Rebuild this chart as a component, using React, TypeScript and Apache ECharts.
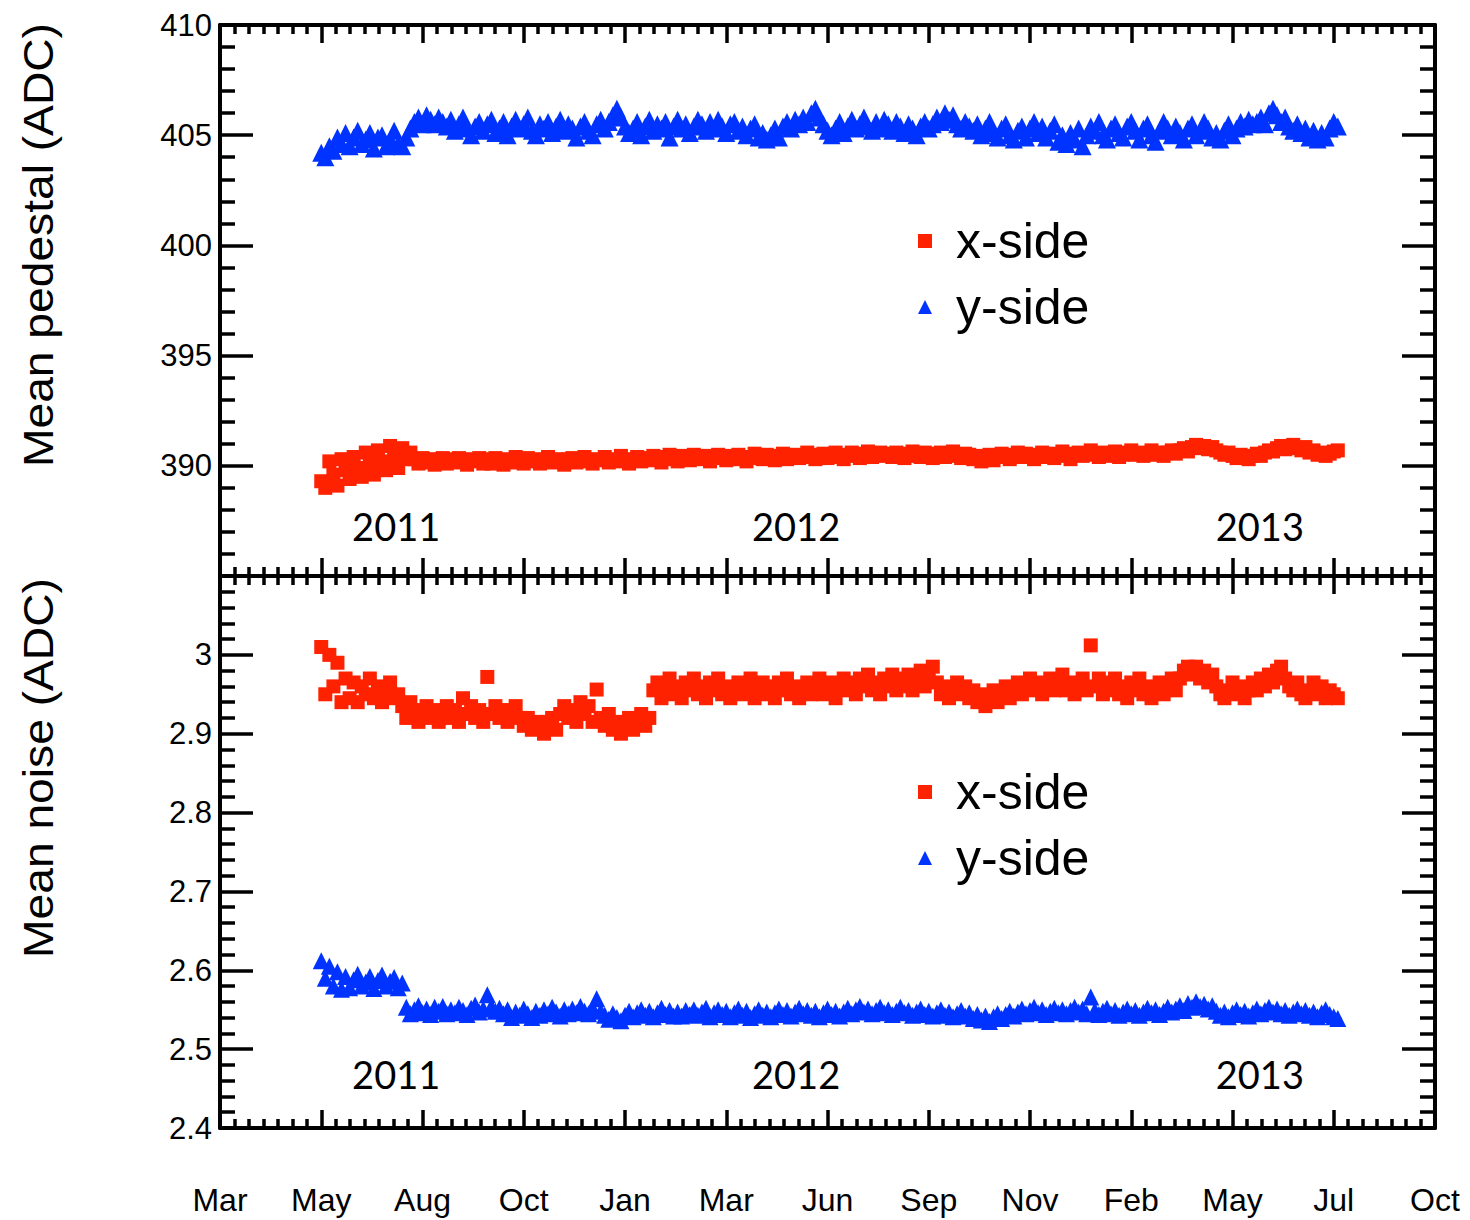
import React, { useEffect, useRef } from "react";
import * as echarts from "echarts";

// Tick labels along the shared time axis (one label per major tick)
const monthLabels = ["Mar", "May", "Aug", "Oct", "Jan", "Mar", "Jun", "Sep", "Nov", "Feb", "May", "Jul", "Oct"];
const yearLabels = ["2011", "2012", "2013"];
// Year label positions in major-tick units
const yearPositions = [1.74, 5.69, 10.27];

// Time of the first sample and spacing between samples, in major-tick units
const sampleStart = 1.0;
const sampleStep = 0.04;

// Mean pedestal (ADC), x-side
const pedestalX = [
  389.3, 389.0, 390.2, 389.6, 389.1, 390.3, 389.8, 389.4, 390.4, 389.9,
  389.5, 390.6, 390.1, 389.6, 390.7, 390.2, 389.8, 390.9, 390.4, 389.9,
  390.8, 390.3, 390.6,
  390.3, 390.1, 390.35, 390.15, 390.3, 390.05, 390.25, 390.35, 390.1, 390.3,
  390.15, 390.35, 390.2, 390.05, 390.3, 390.2, 390.35, 390.1,
  390.3, 390.1, 390.35, 390.2, 390.05, 390.3, 390.15, 390.4, 390.2, 390.1,
  390.35, 390.2, 390.3, 390.1, 390.25, 390.4, 390.15, 390.3, 390.2, 390.05,
  390.3, 390.35, 390.15, 390.25, 390.4, 390.2, 390.1, 390.3, 390.25, 390.4,
  390.15, 390.3, 390.2, 390.45, 390.25, 390.1, 390.3, 390.4, 390.2, 390.35,
  390.25, 390.45, 390.3, 390.15, 390.4, 390.5, 390.3, 390.2, 390.45, 390.35,
  390.25, 390.5, 390.4, 390.3, 390.45, 390.2, 390.35, 390.5, 390.4, 390.25,
  390.45, 390.3, 390.5, 390.35, 390.2, 390.4, 390.55, 390.35, 390.3, 390.5,
  390.4, 390.25, 390.45, 390.55, 390.3, 390.4, 390.5, 390.35, 390.45, 390.6,
  390.4, 390.3, 390.5, 390.55, 390.35, 390.45, 390.6, 390.4, 390.3, 390.5,
  390.6, 390.45, 390.35, 390.55, 390.65, 390.4, 390.5, 390.6, 390.45, 390.55,
  390.4, 390.6, 390.5, 390.35, 390.55, 390.65, 390.45, 390.4, 390.6, 390.5,
  390.35, 390.55, 390.6, 390.4, 390.5, 390.65, 390.45, 390.35, 390.55, 390.5,
  390.3, 390.45, 390.2, 390.35, 390.5, 390.25, 390.4, 390.55, 390.45, 390.3,
  390.5, 390.6, 390.4, 390.55, 390.45, 390.3, 390.5, 390.6, 390.4, 390.55,
  390.35, 390.5, 390.65, 390.45, 390.3, 390.55, 390.6, 390.45, 390.55, 390.7,
  390.5, 390.4, 390.6, 390.45, 390.55, 390.65, 390.4, 390.5, 390.6, 390.7,
  390.5, 390.6, 390.45, 390.55, 390.7, 390.5, 390.6, 390.45, 390.6, 390.7,
  390.55, 390.7, 390.8, 390.65, 390.85, 390.95, 390.8, 390.9, 390.75, 390.85,
  390.7, 390.6, 390.5, 390.6, 390.45, 390.35, 390.5, 390.4, 390.3, 390.45,
  390.55, 390.45, 390.6, 390.7, 390.65, 390.8, 390.9, 390.75, 390.85, 390.95,
  390.8, 390.7, 390.85, 390.6, 390.7, 390.5, 390.6, 390.45, 390.55, 390.65,
  390.7,
];

// Mean pedestal (ADC), y-side
const pedestalY = [
  404.2, 404.0, 404.5, 404.3, 404.9,
  404.6, 405.1, 404.5, 404.9, 405.2, 404.6, 404.8, 405.1, 404.4, 404.9,
  405.0, 404.5, 404.8, 405.2, 404.6, 404.5, 404.9, 405.3,
  405.6, 405.8, 405.5, 405.9, 405.7, 405.5, 405.8, 405.6,
  405.4, 405.7, 405.2, 405.5, 405.8, 405.3, 405.0, 405.4, 405.6, 405.2,
  405.5, 405.7, 405.1, 405.3, 405.6, 405.0, 405.4, 405.7, 405.3, 405.5,
  405.8, 405.2, 405.0, 405.5, 405.3, 405.6, 405.1, 405.4, 405.7, 405.2,
  405.5, 405.3, 404.9, 405.4, 405.6, 405.2, 405.0, 405.5, 405.7, 405.3,
  405.6, 405.9, 406.2, 405.8, 405.4, 405.1,
  405.3, 405.6, 405.0, 405.4, 405.7, 405.2, 405.5, 405.3, 405.6, 404.9,
  405.4, 405.7, 405.3, 405.5, 405.1, 405.4, 405.7, 405.5, 405.2, 405.6,
  405.3, 405.7, 405.4, 405.1, 405.5, 405.6, 405.2, 405.4, 405.0, 405.3,
  405.5, 404.9, 405.1, 404.8,
  405.0, 405.3, 404.9, 405.4, 405.6, 405.3, 405.7, 405.5, 405.8, 405.6,
  406.0, 406.2,
  405.8, 405.5, 405.2, 405.0, 405.3, 405.6, 405.1, 405.4, 405.7, 405.3,
  405.5, 405.8, 405.4, 405.2, 405.6, 405.3, 405.7, 405.5, 405.2, 405.6,
  405.4, 405.1, 405.5, 405.3, 405.0, 405.4, 405.6, 405.3,
  405.5, 405.8, 405.6, 406.0, 405.7, 405.9, 405.5, 405.3, 405.6, 405.4,
  405.2, 405.5, 405.0, 405.3, 405.6, 405.1, 404.9, 405.3, 405.5, 405.0,
  404.8, 405.2, 405.4, 404.9, 405.3, 405.6, 405.1, 405.4, 404.9, 405.2,
  405.5, 404.7, 405.0, 404.6, 405.1, 404.8, 405.3, 404.5, 405.0, 405.4,
  405.2, 405.6, 405.0, 404.8, 405.3, 405.5, 405.1, 404.9, 405.4, 405.6,
  405.2, 404.8, 405.3, 405.5, 405.0, 404.7, 405.2, 405.6, 405.3, 405.0,
  405.4, 405.1, 404.8, 405.3, 405.5, 405.0, 405.2, 405.6, 405.3, 404.9,
  405.1, 404.8, 405.2, 405.5, 405.0, 405.3, 405.6, 405.4, 405.7, 405.5,
  405.6, 405.8, 405.5, 406.0, 406.2, 405.9, 405.6, 405.8, 405.4, 405.2,
  405.5, 405.1, 405.3, 404.9, 405.2, 404.8, 405.1, 404.9, 405.3, 405.6,
  405.4,
];

// Mean noise (ADC), x-side
const noiseX = [
  3.01, 2.95, 3.0, 2.96, 2.99, 2.94,
  2.97, 2.945, 2.965, 2.94, 2.96, 2.95, 2.97, 2.945, 2.96, 2.94,
  2.955, 2.965, 2.945, 2.95,
  2.935, 2.92, 2.94,
  2.93, 2.915, 2.925, 2.935, 2.92, 2.93, 2.915, 2.925, 2.935, 2.92,
  2.93, 2.915, 2.945, 2.925, 2.935, 2.92, 2.93, 2.915,
  2.972,
  2.925, 2.935, 2.92, 2.93, 2.915, 2.925, 2.935, 2.92, 2.91,
  2.92, 2.905, 2.915, 2.91, 2.9, 2.915, 2.92, 2.905, 2.925, 2.935,
  2.92, 2.93, 2.915, 2.94, 2.925, 2.935, 2.915,
  2.956,
  2.92,
  2.91, 2.925, 2.905, 2.915, 2.9, 2.91, 2.92, 2.905, 2.915, 2.925, 2.91, 2.92,
  2.955, 2.965, 2.945, 2.96, 2.97, 2.95, 2.96, 2.945, 2.965, 2.955,
  2.97, 2.95, 2.96, 2.945, 2.965, 2.955, 2.97, 2.95, 2.96, 2.945,
  2.955, 2.965, 2.95, 2.96, 2.97, 2.945, 2.955, 2.965, 2.95, 2.96,
  2.945, 2.965, 2.955, 2.97, 2.95, 2.96, 2.945, 2.955, 2.965, 2.95,
  2.96, 2.97, 2.95, 2.955, 2.965, 2.945, 2.96, 2.97, 2.955, 2.965,
  2.95, 2.97, 2.96, 2.975, 2.955, 2.965, 2.95, 2.97, 2.96, 2.975,
  2.955, 2.97, 2.96, 2.975, 2.955, 2.965, 2.98, 2.96, 2.975, 2.985,
  2.965, 2.95, 2.96, 2.945, 2.955, 2.965, 2.95, 2.96, 2.945, 2.955,
  2.94, 2.95, 2.935, 2.945, 2.955, 2.94, 2.95, 2.96, 2.945, 2.955,
  2.965, 2.95, 2.96, 2.97, 2.955, 2.965, 2.95, 2.96, 2.97, 2.955,
  2.965, 2.975, 2.955, 2.965, 2.95, 2.96, 2.97, 2.955,
  3.012,
  2.96, 2.97, 2.95, 2.965, 2.955, 2.97, 2.95, 2.96, 2.945, 2.965,
  2.955, 2.97, 2.95, 2.96, 2.945, 2.955, 2.965, 2.95, 2.96, 2.97,
  2.955, 2.97, 2.98, 2.985, 2.975, 2.985, 2.97, 2.98, 2.965, 2.975,
  2.96, 2.95, 2.945, 2.955, 2.965, 2.95, 2.96, 2.945, 2.955, 2.965,
  2.955, 2.97, 2.96, 2.975, 2.965, 2.98, 2.985, 2.97, 2.96, 2.955,
  2.965, 2.95, 2.945, 2.955, 2.965, 2.95, 2.96, 2.945, 2.955, 2.95,
  2.945,
];

// Mean noise (ADC), y-side
const noiseY = [
  2.612, 2.59, 2.605, 2.58, 2.598, 2.576,
  2.592, 2.578, 2.588, 2.595, 2.58, 2.585, 2.592, 2.577, 2.587, 2.594,
  2.58, 2.586, 2.591, 2.578, 2.584,
  2.553, 2.545, 2.55, 2.555, 2.546, 2.551, 2.544, 2.553, 2.548, 2.554,
  2.545, 2.55, 2.546, 2.553, 2.549, 2.544, 2.552, 2.556, 2.547, 2.551,
  2.569,
  2.554, 2.548, 2.552, 2.545, 2.55, 2.54, 2.547, 2.543, 2.551, 2.545,
  2.54, 2.548, 2.543, 2.55, 2.545, 2.553, 2.547, 2.542, 2.55, 2.545,
  2.551, 2.546, 2.554, 2.548, 2.545, 2.552,
  2.564,
  2.548, 2.543, 2.538, 2.545, 2.54, 2.536, 2.543, 2.548, 2.541, 2.546,
  2.55, 2.543, 2.548, 2.541, 2.546, 2.552, 2.544, 2.549, 2.542, 2.547,
  2.542, 2.549, 2.544, 2.55, 2.543, 2.547, 2.552, 2.541, 2.546, 2.55,
  2.544, 2.548, 2.541, 2.546, 2.551, 2.543, 2.548, 2.54, 2.545, 2.55,
  2.543, 2.547, 2.541, 2.546, 2.551, 2.544, 2.549, 2.542, 2.547, 2.552,
  2.545, 2.549, 2.543, 2.548, 2.541, 2.546, 2.551, 2.544, 2.548, 2.542,
  2.547, 2.552, 2.545, 2.55, 2.554, 2.547, 2.551, 2.545, 2.549, 2.553,
  2.546, 2.55, 2.544, 2.548, 2.553, 2.546, 2.549, 2.543, 2.547, 2.551,
  2.544, 2.548, 2.542, 2.546, 2.55, 2.543, 2.547, 2.541, 2.545, 2.549,
  2.542, 2.546, 2.539, 2.544, 2.537, 2.542, 2.535, 2.541, 2.545, 2.539,
  2.544, 2.548, 2.542, 2.547, 2.551, 2.545, 2.549, 2.553, 2.546, 2.55,
  2.544, 2.548, 2.552, 2.546, 2.55, 2.545, 2.549, 2.553, 2.547, 2.551,
  2.545,
  2.566,
  2.549, 2.544, 2.548, 2.552, 2.545, 2.549, 2.543, 2.547, 2.551, 2.545,
  2.549, 2.543, 2.547, 2.552, 2.546, 2.55, 2.544, 2.548, 2.553, 2.547,
  2.551, 2.555, 2.549, 2.558, 2.553, 2.56, 2.554, 2.557, 2.551, 2.555,
  2.548, 2.543, 2.547, 2.541, 2.546, 2.55, 2.544, 2.548, 2.542, 2.546,
  2.551, 2.545, 2.549, 2.553, 2.547, 2.551, 2.545, 2.549, 2.543, 2.547,
  2.551, 2.545, 2.549, 2.543, 2.547, 2.541, 2.546, 2.55, 2.544, 2.541,
  2.539,
];

const RED = "#ff2200";
const BLUE = "#0033ff";
const SANS = "'Liberation Sans', Arial, sans-serif";

const toPoints = (vals: number[]) => vals.map((v, i) => [sampleStart + i * sampleStep, v]);

function xAxisDef(gridIndex: number, position: "top" | "bottom", showLabel: boolean) {
  return {
    type: "value",
    gridIndex,
    position,
    min: 0,
    max: 12,
    interval: 1,
    axisLine: { show: true, onZero: false, lineStyle: { color: "#000", width: 4 } },
    axisTick: { show: true, inside: true, length: 18, lineStyle: { color: "#000", width: 3.5 } },
    minorTick: { show: true, splitNumber: 7, length: 9, lineStyle: { color: "#000", width: 3.5 } },
    splitLine: { show: false },
    minorSplitLine: { show: false },
    axisLabel: showLabel
      ? {
          show: true,
          margin: 56,
          fontSize: 32,
          fontFamily: SANS,
          color: "#000",
          showMinLabel: true,
          showMaxLabel: true,
          hideOverlap: false,
          formatter: (v: number) => monthLabels[Math.round(v)] ?? "",
        }
      : { show: false },
  };
}

function yAxisDef(
  gridIndex: number,
  position: "left" | "right",
  min: number,
  max: number,
  interval: number,
  formatter: ((v: number) => string) | null
) {
  return {
    type: "value",
    gridIndex,
    position,
    min,
    max,
    interval,
    axisLine: { show: true, onZero: false, lineStyle: { color: "#000", width: 4 } },
    axisTick: { show: true, inside: true, length: 33, lineStyle: { color: "#000", width: 3.5 } },
    minorTick: { show: true, splitNumber: 5, length: 15, lineStyle: { color: "#000", width: 3.5 } },
    splitLine: { show: false },
    minorSplitLine: { show: false },
    axisLabel: formatter
      ? { show: true, margin: 8, fontSize: 31, fontFamily: SANS, color: "#000", formatter }
      : { show: false },
  };
}

function legendDef(top: number) {
  return {
    data: [
      { name: "x-side", icon: "rect" },
      { name: "y-side", icon: "triangle" },
    ],
    orient: "vertical",
    left: 913,
    top,
    itemWidth: 14,
    itemHeight: 14,
    itemGap: 16,
    selectedMode: false,
    textStyle: { fontSize: 50, fontFamily: SANS, color: "#000", padding: [0, 0, 0, 19] },
  };
}

function App() {
  const ref = useRef<HTMLDivElement>(null);

  useEffect(() => {
    document.body.style.margin = "0";
    document.body.style.overflow = "hidden";
    const chart = echarts.init(ref.current as HTMLDivElement, null, { renderer: "svg" });

    const yearText = (i: number, y: number) => ({
      type: "text",
      x: 220 + yearPositions[i] * 101.25,
      y,
      style: {
        text: yearLabels[i],
        font: "38px Lato, 'Open Sans', sans-serif",
        fill: "#000",
        align: "center",
        verticalAlign: "middle",
      },
    });

    const scatter = (name: string, axis: number, vals: number[], symbol: string, size: number, color: string) => ({
      name,
      type: "scatter",
      xAxisIndex: axis,
      yAxisIndex: axis,
      symbol,
      symbolSize: size,
      itemStyle: { color, opacity: 1 },
      data: toPoints(vals),
    });

    const option = {
      animation: false,
      backgroundColor: "#fff",
      grid: [
        { left: 220, top: 25, width: 1215, height: 551 },
        { left: 220, top: 576, width: 1215, height: 552 },
      ],
      xAxis: [
        xAxisDef(0, "bottom", false),
        xAxisDef(0, "top", false),
        xAxisDef(1, "bottom", true),
        xAxisDef(1, "top", false),
      ],
      yAxis: [
        yAxisDef(0, "left", 385, 410, 5, (v: number) => (v < 387 ? "" : String(Math.round(v)))),
        yAxisDef(0, "right", 385, 410, 5, null),
        yAxisDef(1, "left", 2.4, 3.1, 0.1, (v: number) => (v > 3.05 ? "" : String(Math.round(v * 10) / 10))),
        yAxisDef(1, "right", 2.4, 3.1, 0.1, null),
      ],
      legend: [legendDef(211), legendDef(762)],
      series: [
        scatter("x-side", 0, pedestalX, "rect", 14, RED),
        scatter("y-side", 0, pedestalY, "triangle", 18, BLUE),
        scatter("x-side", 2, noiseX, "rect", 14, RED),
        scatter("y-side", 2, noiseY, "triangle", 17, BLUE),
      ],
      graphic: [
        {
          type: "text",
          x: 38,
          y: 245,
          rotation: Math.PI / 2,
          scaleX: 1.1,
          style: {
            text: "Mean pedestal (ADC)",
            font: `42px ${SANS}`,
            fill: "#000",
            align: "center",
            verticalAlign: "middle",
          },
        },
        {
          type: "text",
          x: 38,
          y: 768,
          rotation: Math.PI / 2,
          scaleX: 1.1,
          style: {
            text: "Mean noise (ADC)",
            font: `42px ${SANS}`,
            fill: "#000",
            align: "center",
            verticalAlign: "middle",
          },
        },
        yearText(0, 526),
        yearText(1, 526),
        yearText(2, 526),
        yearText(0, 1074),
        yearText(1, 1074),
        yearText(2, 1074),
      ],
    };

    chart.setOption(option as any);
    return () => chart.dispose();
  }, []);

  return <div ref={ref} style={{ width: 1470, height: 1220 }} />;
}

export default App;
